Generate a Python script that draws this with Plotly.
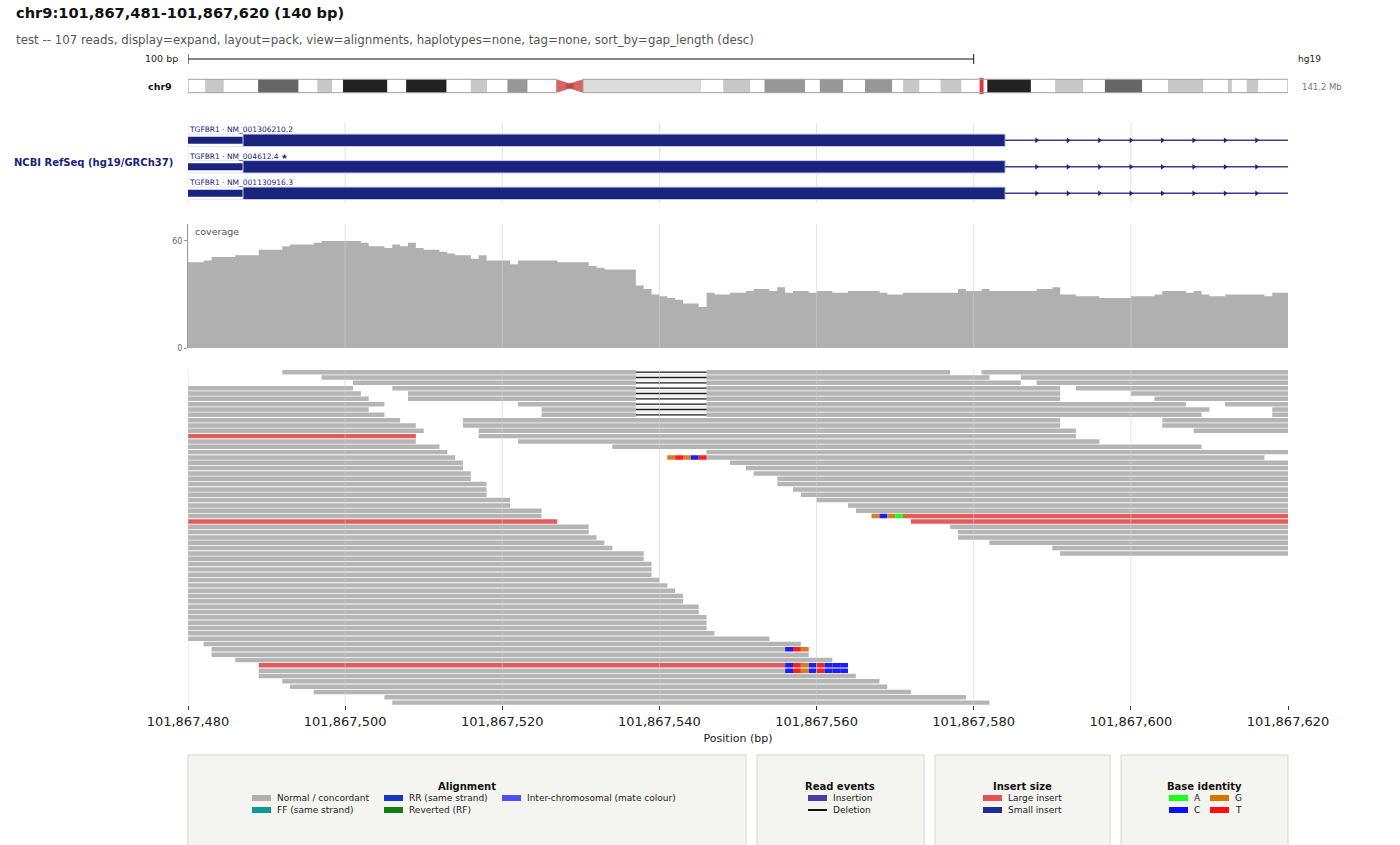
import plotly.graph_objects as go

W, H = 1400, 845
FONT = "DejaVu Sans"
NAVY = "#1a237e"

# ---- region ----
chrom = "chr9"
view_start = 101867480
view_end = 101867620
tick_pos = [101867480, 101867500, 101867520, 101867540, 101867560,
            101867580, 101867600, 101867620]
scale_bp = 100

# ---- ideogram (hg19 chr9 cytobands, Mb) ----
band_start = [0.0, 2.2, 4.6, 9.0, 14.2, 16.6, 18.5, 19.9, 25.6, 28.0, 33.2,
              36.3, 38.4, 41.0, 43.6, 47.3, 49.0, 50.7, 65.9, 68.7, 72.2,
              74.0, 79.2, 81.1, 84.1, 86.9, 90.4, 91.8, 93.9, 96.6, 99.3,
              102.6, 108.2, 111.3, 114.9, 117.7, 122.5, 125.8, 130.3, 133.5,
              134.0, 135.9, 137.4]
band_end = band_start[1:] + [141.2]
band_stain = ["gneg", "gpos25", "gneg", "gpos75", "gneg", "gpos25", "gneg",
              "gpos100", "gneg", "gpos100", "gneg", "gpos25", "gneg", "gpos50",
              "gneg", "acen", "acen", "gvar", "gneg", "gpos25", "gneg",
              "gpos50", "gneg", "gpos50", "gneg", "gpos50", "gneg", "gpos25",
              "gneg", "gpos25", "gneg", "gpos100", "gneg", "gpos25", "gneg",
              "gpos75", "gneg", "gpos25", "gneg", "gpos25", "gneg", "gpos25",
              "gneg"]

# ---- RefSeq transcripts ----
tx_label = ["TGFBR1 · NM_001306210.2", "TGFBR1 · NM_004612.4 ★",
            "TGFBR1 · NM_001130916.3"]
exon_start = 101867300
cds_start = 101867487
exon_end = 101867584
next_exon = 101867700
arrow_pos = [101867588, 101867592, 101867596, 101867600, 101867604,
             101867608, 101867612, 101867616]

# ---- coverage per base (offset 0..139 from view_start) ----
coverage = [48, 48, 49, 51, 51, 51, 52, 52, 52, 55, 55, 55, 57, 58, 58, 58,
            59, 60, 60, 60, 60, 60, 59, 57, 57, 56, 58, 57, 59, 56, 55, 55,
            54, 53, 52, 52, 50, 52, 49, 49, 49, 47, 49, 49, 49, 49, 49, 48,
            48, 48, 48, 46, 45, 44, 44, 44, 44, 35, 33, 30, 29, 28, 27, 25,
            25, 23, 31, 30, 30, 31, 31, 32, 33, 33, 32, 34, 31, 32, 32, 31,
            32, 32, 31, 31, 32, 32, 32, 32, 31, 30, 30, 31, 31, 31, 31, 31,
            31, 31, 33, 32, 32, 33, 32, 32, 32, 32, 32, 32, 33, 33, 34, 30,
            30, 29, 29, 29, 28, 28, 28, 28, 29, 29, 29, 30, 32, 32, 32, 31,
            32, 30, 29, 29, 30, 30, 30, 30, 30, 29, 31, 31]

# ---- reads (packed rows, offsets from view_start) ----
read_row = [0, 0, 1, 1, 2, 2, 3, 3, 3, 4, 4, 4, 5, 5, 5, 6, 6, 6, 7, 7, 7,
            8, 8, 8, 9, 9, 9, 10, 10, 10, 11, 11, 11, 12, 12, 13, 13, 14, 14,
            15, 15, 16, 16, 17, 17, 18, 18, 19, 19, 20, 20, 21, 21, 22, 22,
            23, 23, 24, 24, 25, 25, 26, 26, 27, 27, 28, 28, 29, 29, 30, 30,
            31, 31, 32, 32, 33, 33, 34, 34, 35, 36, 37, 38, 39, 40, 41, 42,
            43, 44, 45, 46, 47, 48, 49, 50, 51, 52, 53, 54, 55, 56, 57, 58,
            59, 60, 61, 62]
read_start = [12, 101, 17, 106, 21, 108, 0, 26, 113, 0, 28, 120, 0, 28, 123,
              0, 42, 132, 0, 45, 138, 0, 45, 138, 0, 35, 124, 0, 35, 124, 0,
              37, 128, 0, 37, 0, 42, 0, 54, 0, 66, 0, 66, 0, 69, 0, 71, 0,
              72, 0, 75, 0, 75, 0, 77, 0, 78, 0, 80, 0, 84, 0, 85, 0, 91, 0,
              92, 0, 97, 0, 98, 0, 98, 0, 102, 0, 110, 0, 111, 0, 0, 0, 0,
              0, 0, 0, 0, 0, 0, 0, 0, 0, 0, 0, 0, 2, 3, 3, 6, 9, 9, 9, 12,
              13, 16, 25, 26]
read_end = [97, 140, 102, 140, 106, 140, 21, 111, 140, 22, 111, 140, 23, 111,
            140, 25, 127, 140, 23, 130, 140, 25, 129, 140, 27, 111, 140, 29,
            111, 140, 30, 113, 140, 29, 113, 29, 116, 32, 129, 33, 140, 34,
            137, 35, 140, 35, 140, 36, 140, 36, 140, 38, 140, 38, 140, 38,
            140, 41, 140, 41, 140, 45, 140, 45, 140, 47, 140, 51, 140, 51,
            140, 52, 140, 53, 140, 54, 140, 58, 140, 58, 59, 59, 59, 60, 61,
            62, 63, 63, 65, 65, 66, 66, 66, 67, 74, 78, 76, 79, 82, 76, 76,
            85, 88, 89, 92, 99, 102]
# N = normal / concordant, L = large insert  (grouped per row 0..62)
read_kind = list("".join([
    "NN", "NN", "NN", "NNN", "NNN", "NNN", "NNN", "NNN", "NNN", "NNN", "NNN",
    "NNN", "LN", "NN", "NN", "NN", "NN", "NN", "NN", "NN", "NN", "NN", "NN",
    "NN", "NN", "NN", "NN", "NL", "LL", "NN", "NN", "NN", "NN", "NN", "NN",
    "N" * 20, "L", "N" * 7]))
assert len(read_kind) == len(read_row) == len(read_start) == len(read_end)

# deletions (row, from, to)
del_row = [0, 1, 2, 3, 4, 5, 6, 7, 8]
del_start = [57, 57, 57, 57, 57, 57, 57, 57, 57]
del_end = [66, 66, 66, 66, 66, 66, 66, 66, 66]

# soft-clipped bases shown by identity
clip_row = [16, 16, 16, 16, 16, 27, 27, 27, 27, 52, 52, 52,
            55, 55, 55, 55, 55, 55, 55, 55, 56, 56, 56, 56, 56, 56, 56, 56]
clip_pos = [61, 62, 63, 64, 65, 87, 88, 89, 90, 76, 77, 78,
            76, 77, 78, 79, 80, 81, 82, 83, 76, 77, 78, 79, 80, 81, 82, 83]
clip_base = list("GTGCT" "GCGA" "CTG" "CTGCTCCC" "CTGCTCCC")

# ---- styling ----
stain_color = {"gneg": "#ffffff", "gpos25": "#c8c8c8", "gpos50": "#979797",
               "gpos75": "#666666", "gpos100": "#232323", "gvar": "#dcdcdc"}
base_color = {"A": "#20ff20", "C": "#1c1cff", "G": "#da7c1f", "T": "#ff1e1e"}
kind_color = {"N": "#b5b5b5", "L": "#e35b5b"}


def fx(p):
    return p / W


def fy(p):
    return 1 - p / H


fig = go.Figure()

# ideogram bands
idx = [i for i, s in enumerate(band_stain) if s != "acen"]
fig.add_trace(go.Bar(
    orientation="h", y=[0.5] * len(idx), base=[band_start[i] for i in idx],
    x=[band_end[i] - band_start[i] for i in idx], width=1,
    marker=dict(color=[stain_color[band_stain[i]] for i in idx], line=dict(width=0)),
    xaxis="x4", yaxis="y4", hoverinfo="skip"))
acen = [i for i, s in enumerate(band_stain) if s == "acen"]
pa, qa = acen
fig.add_trace(go.Scatter(
    x=[band_start[pa], band_start[pa], band_end[pa], band_end[pa], band_start[pa]],
    y=[0, 1, 0.68, 0.32, 0], fill="toself", fillcolor="#d96262", mode="lines",
    line=dict(width=0, color="#d96262"), xaxis="x4", yaxis="y4", hoverinfo="skip"))
fig.add_trace(go.Scatter(
    x=[band_start[qa], band_start[qa], band_end[qa], band_end[qa], band_start[qa]],
    y=[0.32, 0.68, 1, 0, 0.32], fill="toself", fillcolor="#d96262", mode="lines",
    line=dict(width=0, color="#d96262"), xaxis="x4", yaxis="y4", hoverinfo="skip"))
fig.add_trace(go.Scatter(
    x=[band_end[pa] - 0.5, band_end[pa] + 0.5], y=[0.5, 0.5], mode="lines",
    line=dict(width=5, color="#b84a4a"), xaxis="x4", yaxis="y4", hoverinfo="skip"))
locus_mb = (view_start + view_end) / 2 / 1e6
fig.add_trace(go.Scatter(
    x=[locus_mb, locus_mb], y=[-0.12, 1.12], mode="lines",
    line=dict(width=4, color="#e0353a"), xaxis="x4", yaxis="y4", hoverinfo="skip"))

# transcripts
rows = list(range(len(tx_label)))
fig.add_trace(go.Bar(
    orientation="h", y=rows, base=[exon_start] * 3, x=[cds_start - exon_start] * 3,
    width=0.47, marker=dict(color="white", line=dict(color="#e4e6f4", width=1)),
    xaxis="x2", yaxis="y2", hoverinfo="skip"))
fig.add_trace(go.Bar(
    orientation="h", y=rows, base=[exon_start] * 3, x=[cds_start - exon_start] * 3,
    width=0.26, marker=dict(color=NAVY, line=dict(width=0)),
    xaxis="x2", yaxis="y2", hoverinfo="skip"))
ix, iy = [], []
for r in rows:
    ix += [exon_end, next_exon, None]
    iy += [r, r, None]
fig.add_trace(go.Scatter(x=ix, y=iy, mode="lines", line=dict(color="#3b4190", width=1.5),
                         xaxis="x2", yaxis="y2", hoverinfo="skip"))
fig.add_trace(go.Bar(
    orientation="h", y=rows, base=[cds_start] * 3, x=[exon_end - cds_start] * 3,
    width=0.47, marker=dict(color=NAVY, line=dict(color="#c9cdea", width=1)),
    xaxis="x2", yaxis="y2", hoverinfo="skip"))
fig.add_trace(go.Scatter(
    x=[p for r in rows for p in arrow_pos], y=[r for r in rows for p in arrow_pos],
    mode="markers", marker=dict(symbol="triangle-right", size=5, color=NAVY),
    xaxis="x2", yaxis="y2", hoverinfo="skip"))

# coverage as a step outline (one filled polygon, no seams between bins)
cov_x = [view_start + i for i in range(len(coverage))] + [view_start + len(coverage)]
cov_y = coverage + [coverage[-1]]
fig.add_trace(go.Scatter(
    x=cov_x, y=cov_y, mode="lines", line=dict(shape="hv", width=0, color="#b0b0b0"),
    fill="tozeroy", fillcolor="#b0b0b0", xaxis="x3", yaxis="y3", hoverinfo="skip"))

# reads
for k in ["N", "L"]:
    sel = [i for i in range(len(read_row)) if read_kind[i] == k]
    fig.add_trace(go.Bar(
        orientation="h", y=[read_row[i] for i in sel],
        base=[view_start + read_start[i] for i in sel],
        x=[read_end[i] - read_start[i] for i in sel], width=0.84,
        marker=dict(color=kind_color[k], line=dict(width=0)),
        xaxis="x", yaxis="y", hoverinfo="skip"))
# mask deleted spans inside reads
fig.add_trace(go.Bar(
    orientation="h", y=del_row, base=[view_start + s for s in del_start],
    x=[e - s for s, e in zip(del_start, del_end)], width=0.84,
    marker=dict(color="white", line=dict(width=0)), xaxis="x", yaxis="y", hoverinfo="skip"))
dx, dy = [], []
for r, s, e in zip(del_row, del_start, del_end):
    dx += [view_start + s, view_start + e, None]
    dy += [r, r, None]
fig.add_trace(go.Scatter(x=dx, y=dy, mode="lines", line=dict(color="#1a1a1a", width=1.3),
                         xaxis="x", yaxis="y", hoverinfo="skip"))
fig.add_trace(go.Bar(
    orientation="h", y=clip_row, base=[view_start + p for p in clip_pos],
    x=[1] * len(clip_pos), width=0.84,
    marker=dict(color=[base_color[b] for b in clip_base], line=dict(width=0)),
    xaxis="x", yaxis="y", hoverinfo="skip"))

# ---- layout ----
xdom = [fx(188), fx(1288)]
shapes = []
for t in tick_pos[:-1]:
    shapes.append(dict(type="line", xref="x", yref="y2 domain", x0=t, x1=t, y0=0, y1=1,
                       line=dict(color="#e2e2e2", width=1), layer="below"))
    shapes.append(dict(type="line", xref="x", yref="y3 domain", x0=t, x1=t, y0=0, y1=1,
                       line=dict(color="rgba(205,205,205,0.55)", width=1), layer="above"))
    shapes.append(dict(type="line", xref="x", yref="y domain", x0=t, x1=t, y0=0, y1=1,
                       line=dict(color="rgba(205,205,205,0.55)", width=1), layer="above"))
# scale bar
shapes += [
    dict(type="line", xref="x", yref="paper", x0=view_start, x1=view_start + scale_bp,
         y0=fy(59), y1=fy(59), line=dict(color="#111", width=1)),
    dict(type="line", xref="x", yref="paper", x0=view_start, x1=view_start,
         y0=fy(54), y1=fy(64), line=dict(color="#111", width=1)),
    dict(type="line", xref="x", yref="paper", x0=view_start + scale_bp, x1=view_start + scale_bp,
         y0=fy(54), y1=fy(64), line=dict(color="#111", width=1)),
]
# ideogram outline
shapes += [
    dict(type="rect", xref="x4", yref="y4", x0=band_start[0], x1=band_start[pa], y0=0, y1=1,
         line=dict(color="#a0a0a0", width=1)),
    dict(type="rect", xref="x4", yref="y4", x0=band_end[qa], x1=band_end[-1], y0=0, y1=1,
         line=dict(color="#a0a0a0", width=1)),
]

ann = []


def text(x, y, s, size, color="#222", anchor="left", bold=False, **kw):
    ann.append(dict(x=x, y=y, xref=kw.get("xref", "paper"), yref=kw.get("yref", "paper"),
                    text=f"<b>{s}</b>" if bold else s, showarrow=False, xanchor=anchor,
                    yanchor="middle", font=dict(family=FONT, size=size, color=color)))


text(fx(14), fy(13), f"{chrom}:{view_start + 1:,}-{view_end:,} ({view_end - view_start} bp)",
     14.6, "#111", bold=True)
text(fx(14), fy(40), "test -- 107 reads, display=expand, layout=pack, view=alignments, "
     "haplotypes=none, tag=none, sort_by=gap_length (desc)", 11.8, "#555")
text(fx(180), fy(59), "100 bp", 9.5, "#222", anchor="right")
text(fx(1296), fy(59), "hg19", 9, "#222")
text(fx(174), fy(86), chrom, 9.5, "#111", anchor="right", bold=True)
text(fx(1300), fy(87), "141.2 Mb", 8.5, "#777")
text(fx(175), fy(163), "NCBI RefSeq (hg19/GRCh37)", 10, NAVY, anchor="right", bold=True)
for r, lab in zip(rows, tx_label):
    text(fx(187), r - 0.39, lab, 7.5, NAVY, yref="y2")
text(fx(193), fy(231), "coverage", 9.5, "#555")

# legend panels
box_x0 = [188, 757, 935, 1121]
box_x1 = [746, 924, 1110, 1288]
box_title = ["Alignment", "Read events", "Insert size", "Base identity"]
for x0, x1, t in zip(box_x0, box_x1, box_title):
    shapes.append(dict(type="rect", xref="paper", yref="paper", x0=fx(x0), x1=fx(x1),
                       y0=fy(900), y1=fy(755), fillcolor="#f4f4f0",
                       line=dict(color="#d6d6d2", width=1), layer="below"))
    text(fx((x0 + x1) / 2), fy(786), t, 10, "#111", anchor="center", bold=True)
leg_label = ["Normal / concordant", "RR (same strand)", "Inter-chromosomal (mate colour)",
             "FF (same strand)", "Reverted (RF)", "Insertion", "Deletion",
             "Large insert", "Small insert", "A", "G", "C", "T"]
leg_color = ["#b0b0b0", "#1a36c6", "#5050f2", "#109797", "#117e11", "#4a3aa2", "#111111",
             "#e25252", "#1a2c98", "#1aff1a", "#d97400", "#0f0fff", "#ff1010"]
leg_x = [252, 384, 502, 252, 384, 808, 808, 983, 983, 1169, 1210, 1169, 1210]
leg_y = [798, 798, 798, 810, 810, 798, 810, 798, 810, 798, 798, 810, 810]
for lab, col, x, y in zip(leg_label, leg_color, leg_x, leg_y):
    if lab == "Deletion":
        shapes.append(dict(type="line", xref="paper", yref="paper", x0=fx(x), x1=fx(x + 19),
                           y0=fy(y), y1=fy(y), line=dict(color=col, width=2)))
    else:
        shapes.append(dict(type="rect", xref="paper", yref="paper", x0=fx(x), x1=fx(x + 19),
                           y0=fy(y + 3), y1=fy(y - 3), fillcolor=col, line=dict(width=0)))
    text(fx(x + 23), fy(y), lab, 9, "#222")

fig.update_layout(
    width=W, height=H, margin=dict(l=0, r=0, t=0, b=0, pad=0, autoexpand=False),
    paper_bgcolor="white", plot_bgcolor="rgba(0,0,0,0)",
    barmode="overlay", showlegend=False, shapes=shapes, annotations=ann,
    font=dict(family=FONT),
    xaxis=dict(domain=xdom, anchor="y", range=[view_start, view_end], tickvals=tick_pos,
               tickformat=",d", ticks="outside", ticklen=4, tickcolor="#333",
               tickfont=dict(size=13, color="#222"), showgrid=False, zeroline=False,
               automargin=False,
               title=dict(text="Position (bp)", font=dict(size=11, color="#222"), standoff=6)),
    yaxis=dict(domain=[fy(705.3), fy(369.5)], range=[62.5, -0.5], visible=False),
    xaxis2=dict(domain=xdom, anchor="y2", matches="x", visible=False),
    yaxis2=dict(domain=[fy(203), fy(123)], range=[2.366, -0.653], visible=False),
    xaxis3=dict(domain=xdom, anchor="y3", matches="x", visible=False),
    yaxis3=dict(domain=[fy(348), fy(224)], range=[0, 69.5], tickvals=[0, 60],
                ticks="outside", ticklen=3, tickcolor="#999", showline=True,
                linecolor="#9a9a9a", linewidth=1, showgrid=False, zeroline=False,
                automargin=False, tickfont=dict(size=8, color="#666")),
    xaxis4=dict(domain=xdom, anchor="y4", range=[band_start[0], band_end[-1]], visible=False),
    yaxis4=dict(domain=[fy(94.7), fy(77.3)], range=[-0.15, 1.15], visible=False),
)

fig.write_html("out.html", config={"displayModeBar": False},
               post_script="document.body.style.margin='0px';")
